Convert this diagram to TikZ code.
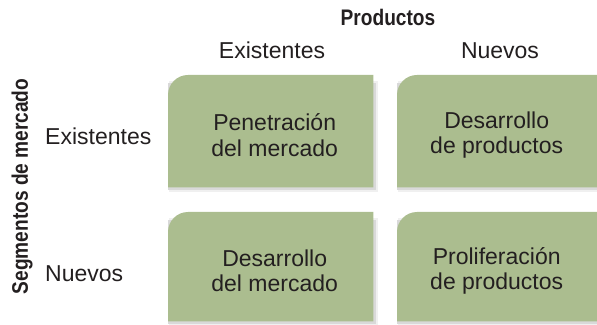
\documentclass[tikz,border=0pt]{standalone}
\usepackage{fontspec}
\setmainfont{Liberation Sans}
\newfontfamily\condfont{Liberation Sans}[FakeStretch=0.85]
\usetikzlibrary{calc}
\definecolor{boxgreen}{RGB}{171,189,143}
\definecolor{ink}{RGB}{35,31,32}
\newcommand\drawcell[1]{%
  \fill[gray!12] ($(#1.south west)+(1,-4.5)$) rectangle ($(#1.north east)+(4.5,-6)$);
  \fill[gray!30] ($(#1.south west)+(0,-2.5)$) rectangle ($(#1.north east)+(2.5,-8)$);
  \fill[boxgreen] (#1.south west) -- ($(#1.north west)+(0,-20)$)
    arc[start angle=180,end angle=90,radius=20] -- (#1.north east)
    -- (#1.south east) -- cycle;}
\begin{document}
\begin{tikzpicture}[x=1pt,y=1pt,
  cell/.style={minimum width=205pt, minimum height=112pt, inner sep=0pt, anchor=north west},
  celltext/.style={font=\fontsize{23}{25.5}\selectfont, text=ink, align=center, inner sep=0pt},
  head/.style={font=\fontsize{23}{26}\selectfont, text=ink, anchor=base, inner sep=0pt},
  axis/.style={font=\condfont\bfseries\fontsize{22.5}{24}\selectfont, text=ink, inner sep=0pt}]
\clip (0,0) rectangle (597,324);
\node[cell] (pen) at (168,249) {};
\node[cell] (dp) at (397,249) {};
\node[cell, minimum height=109pt] (dm) at (168,112) {};
\node[cell, minimum height=109pt] (pp) at (397,112) {};
\drawcell{pen}
\drawcell{dp}
\drawcell{dm}
\drawcell{pp}
\node[celltext] (penT) at ($(pen.center)+(4,-4)$) {Penetración\\del mercado};
\node[celltext] (dpT) at ($(dp.center)+(-3,-4)$) {Desarrollo\\de productos};
\node[celltext] (dmT) at ($(dm.center)+(4,-4)$) {Desarrollo\\del mercado};
\node[celltext] (ppT) at ($(pp.center)+(-3,-4)$) {Proliferación\\de productos};
\node[axis, anchor=base] (prod) at (388,298) {Productos};
\node[head] (cEx) at (272,265) {Existentes};
\node[head] (cNu) at (500,265) {Nuevos};
\node[head, anchor=base west] (rEx) at (45,179) {Existentes};
\node[head, anchor=base west] (rNu) at (45,42) {Nuevos};
\node[axis, rotate=90, anchor=center] (seg) at (22,137.5) {Segmentos de mercado};
\end{tikzpicture}
\end{document}
